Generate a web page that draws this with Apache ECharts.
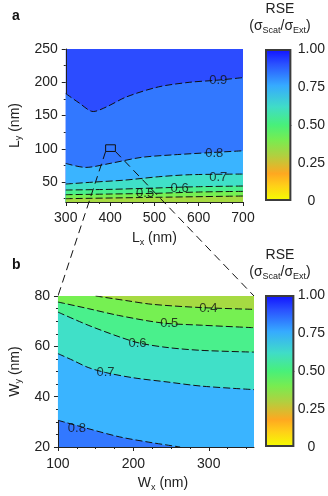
<!DOCTYPE html>
<html>
<head>
<meta charset="utf-8">
<script src="https://cdn.jsdelivr.net/npm/echarts@6/dist/echarts.min.js"></script>
<style>
  html, body { margin: 0; padding: 0; background: #fff; }
  #chart { width: 328px; height: 496px; }
</style>
</head>
<body>
<div id="chart"></div>
<script>
// contour lines of panel a, [Lx, Ly] in nm
const a09 = [[300, 183], [330, 169], [362, 156], [392, 163], [437, 178], [509, 193], [580, 200], [640, 203], [700, 207]]
const a08 = [[300, 78], [345, 72], [400, 78], [470, 87], [545, 91], [620, 94], [700, 97]]
const a07 = [[300, 47], [365, 50], [435, 53], [510, 58], [580, 61], [700, 62]]
const a06 = [[300, 38], [400, 39], [500, 41], [600, 43], [700, 44]]
const a05 = [[300, 31], [400, 32], [500, 33], [600, 35], [700, 36]]
const a04 = [[300, 25], [500, 27], [700, 29]]
const aLabels = [[644, 203.5, '0.9'], [635, 93.5, '0.8'], [644, 57.5, '0.7'], [557, 41, '0.6'], [479, 32.5, '0.5']]
// zoomed region marked in panel a
const aBox = [[390, 96], [390, 106], [412, 106], [412, 96], [390, 96]]

// contour lines of panel b, [Wx, Wy] in nm
const b04 = [[150, 80], [190, 78.2], [225, 76.7], [290, 75.4], [360, 74.7]]
const b05 = [[100, 77.6], [140, 75], [180, 72.3], [238, 69.3], [290, 68.4], [360, 67.4]]
const b06 = [[100, 73.6], [140, 68.4], [182, 63.7], [208, 61.3], [246, 59.5], [290, 58.4], [360, 57.7]]
const b07 = [[100, 57.1], [120, 54.4], [140, 51.6], [163, 49.6], [200, 47.5], [246, 45.8], [290, 44.2], [360, 42.8]]
const b08 = [[100, 30.6], [140, 27.3], [182, 24], [225, 21.7], [262, 20]]
const b08Fill = b08.concat([[360, 20]])
const bLabels = [[299.5, 75, '0.4'], [247.5, 69, '0.5'], [205.5, 61.3, '0.6'], [163, 49.8, '0.7'], [125, 27.5, '0.8']]

// tick positions
const aXTicks = [300, 400, 500, 600, 700]
const aXMinor = [325, 350, 375, 425, 450, 475, 525, 550, 575, 625, 650, 675]
const aYTicks = [50, 100, 150, 200, 250]
const aYMinor = [25, 75, 125, 175, 225]
const bXTicks = [100, 200, 300]
const bXMinor = [125, 150, 175, 225, 250, 275, 325, 350]
const bYTicks = [20, 40, 60, 80]
const bYMinor = [25, 30, 35, 45, 50, 55, 65, 70, 75]
const cbTicks = [0, 0.25, 0.5, 0.75, 1]

// colour of each band between contour levels
const bandColors = {
  '0.3-0.4': '#a6da42',
  '0.4-0.5': '#76f052',
  '0.5-0.6': '#4af08c',
  '0.6-0.7': '#40e0c8',
  '0.7-0.8': '#3ab4ff',
  '0.8-0.9': '#3278ff',
  '0.9-1.0': '#2c4cff',
}

const FONT = 'Liberation Sans, Arial, sans-serif'
const INK = '#222222'

const chart = echarts.init(document.getElementById('chart'))

function mainAxis(gridIndex, min, max, ticks, name, extra) {
  return Object.assign({
    type: 'value',
    gridIndex: gridIndex,
    min: min,
    max: max,
    name: name,
    nameLocation: 'middle',
    nameTextStyle: {
      color: INK,
      fontFamily: FONT,
      fontSize: 14,
      rich: {
        n: { fontSize: 14, fontFamily: FONT, color: INK },
        s: { fontSize: 9, fontFamily: FONT, color: INK, padding: [8, 0, 0, 0] },
      },
    },
    axisLine: { show: true, onZero: false, lineStyle: { color: INK, width: 1 } },
    axisTick: { show: true, inside: false, length: 4, customValues: ticks, lineStyle: { color: INK } },
    axisLabel: { customValues: ticks, color: INK, fontFamily: FONT, fontSize: 14 },
    splitLine: { show: false },
  }, extra)
}

function minorAxis(gridIndex, min, max, ticks, position) {
  return {
    type: 'value',
    gridIndex: gridIndex,
    min: min,
    max: max,
    position: position,
    axisLine: { show: false, onZero: false },
    axisTick: { show: true, inside: false, length: 2, customValues: ticks, lineStyle: { color: INK } },
    axisLabel: { show: false },
    splitLine: { show: false },
  }
}

function contour(data, xi, yi, fill, origin) {
  return {
    type: 'line',
    xAxisIndex: xi,
    yAxisIndex: yi,
    data: data,
    smooth: 0.3,
    symbol: 'none',
    silent: true,
    lineStyle: { color: '#111', width: 1, type: [7, 3] },
    areaStyle: { color: fill, opacity: 1, origin: origin },
  }
}

function fillOnly(data, xi, yi, fill, origin) {
  return {
    type: 'line',
    xAxisIndex: xi,
    yAxisIndex: yi,
    data: data,
    smooth: 0.3,
    symbol: 'none',
    silent: true,
    lineStyle: { width: 0 },
    areaStyle: { color: fill, opacity: 1, origin: origin },
  }
}

function contourLabels(data, xi, yi) {
  return {
    type: 'scatter',
    xAxisIndex: xi,
    yAxisIndex: yi,
    z: 10,
    data: data,
    symbolSize: 0,
    itemStyle: { color: 'rgba(0,0,0,0)' },
    silent: true,
    labelLayout: { hideOverlap: false },
    label: {
      show: true,
      position: 'inside',
      formatter: (p) => p.data[2],
      color: '#111111',
      fontFamily: FONT,
      fontSize: 13,
    },
  }
}

const cbGradient = new echarts.graphic.LinearGradient(0, 0, 0, 1, [
  { offset: 0, color: '#1010ff' },
  { offset: 0.1, color: '#2a52ff' },
  { offset: 0.24, color: '#36aaff' },
  { offset: 0.38, color: '#40dcc8' },
  { offset: 0.5, color: '#48f07a' },
  { offset: 0.6, color: '#78ec50' },
  { offset: 0.7, color: '#b0d040' },
  { offset: 0.82, color: '#ffa820' },
  { offset: 0.9, color: '#ffd018' },
  { offset: 1, color: '#f4ff00' },
])

function colorbar(gridIndex) {
  return {
    type: 'bar',
    xAxisIndex: gridIndex,
    yAxisIndex: gridIndex,
    data: [1],
    barWidth: '100%',
    silent: true,
    itemStyle: { color: cbGradient, borderColor: '#3c3c3c', borderWidth: 2 },
  }
}

function cbAxis(gridIndex, margin) {
  return {
    type: 'value',
    gridIndex: gridIndex,
    position: 'right',
    min: 0,
    max: 1,
    axisLine: { show: false },
    axisTick: { show: true, inside: true, length: 2, customValues: [0.5], lineStyle: { color: '#3c3c3c' } },
    axisLabel: {
      customValues: cbTicks,
      align: 'center',
      margin: margin,
      color: INK,
      fontFamily: FONT,
      fontSize: 14,
      formatter: (v) => (v === 0 ? '0' : v.toFixed(2)),
    },
    splitLine: { show: false },
  }
}

function titleText(y) {
  return [
    {
      type: 'text', x: 280, y: y, z: 100,
      style: { text: 'RSE', fill: INK, font: '14px ' + FONT, textAlign: 'center', textVerticalAlign: 'top', align: 'center', verticalAlign: 'top' },
    },
    {
      type: 'text', x: 280, y: y + 16, z: 100,
      style: {
        text: '{n|(σ}{s|Scat}{n|/σ}{s|Ext}{n|)}',
        textAlign: 'center',
        align: 'center',
        textVerticalAlign: 'top',
        verticalAlign: 'top',
        rich: {
          n: { fontSize: 14, fontFamily: FONT, fill: INK },
          s: { fontSize: 9, fontFamily: FONT, fill: INK, padding: [8, 0, 0, 0] },
        },
      },
    },
  ]
}

const bXName = '{n|W}{s|x}{n| (nm)}'

chart.setOption({
  animation: false,
  backgroundColor: '#ffffff',
  grid: [
    { left: 59, top: 49, width: 184, height: 153, show: true, backgroundColor: bandColors['0.9-1.0'], borderWidth: 0 },
    { left: 51, top: 296, width: 203, height: 151, show: true, backgroundColor: bandColors['0.8-0.9'], borderWidth: 0 },
    { left: 265, top: 49, width: 28, height: 152 },
    { left: 265, top: 295, width: 31, height: 152 },
  ],
  xAxis: [
    mainAxis(0, 300, 700, aXTicks, '{n|L}{s|x}{n| (nm)}', { nameGap: 28, axisLabel: { customValues: aXTicks, color: INK, fontFamily: FONT, fontSize: 14, margin: 9 } }),
    minorAxis(0, 300, 700, aXMinor, 'bottom'),
    mainAxis(1, 100, 360, bXTicks, bXName, {
      nameGap: 28,
      nameTextStyle: {
        color: INK,
        fontFamily: FONT,
        fontSize: 14,
        padding: [0, 0, 0, 14],
        rich: {
          n: { fontSize: 14, fontFamily: FONT, color: INK },
          s: { fontSize: 9, fontFamily: FONT, color: INK, padding: [8, 0, 0, 0] },
        },
      },
      axisLabel: { customValues: bXTicks, color: INK, fontFamily: FONT, fontSize: 14, margin: 10 },
    }),
    minorAxis(1, 100, 360, bXMinor, 'bottom'),
    { type: 'category', gridIndex: 2, data: ['RSE'], show: false },
    { type: 'category', gridIndex: 3, data: ['RSE'], show: false },
  ],
  yAxis: [
    mainAxis(0, 20, 250, aYTicks, '{n|L}{s|y}{n| (nm)}', { nameGap: 42, nameRotate: 90, axisLabel: { customValues: aYTicks, color: INK, fontFamily: FONT, fontSize: 14, margin: 8 } }),
    minorAxis(0, 20, 250, aYMinor, 'left'),
    mainAxis(1, 20, 80, bYTicks, '{n|W}{s|y}{n| (nm)}', { nameGap: 34, nameRotate: 90, axisLabel: { customValues: bYTicks, color: INK, fontFamily: FONT, fontSize: 14, margin: 8 } }),
    minorAxis(1, 20, 80, bYMinor, 'left'),
    cbAxis(2, 20),
    cbAxis(3, 17),
  ],
  series: [
    // panel a: each contour fills the band below it
    contour(a09, 0, 0, bandColors['0.8-0.9'], 'start'),
    contour(a08, 0, 0, bandColors['0.7-0.8'], 'start'),
    contour(a07, 0, 0, bandColors['0.6-0.7'], 'start'),
    contour(a06, 0, 0, bandColors['0.5-0.6'], 'start'),
    contour(a05, 0, 0, bandColors['0.4-0.5'], 'start'),
    contour(a04, 0, 0, bandColors['0.3-0.4'], 'start'),
    contourLabels(aLabels, 0, 0),
    {
      type: 'line', xAxisIndex: 0, yAxisIndex: 0, z: 10, data: aBox, symbol: 'none', silent: true,
      lineStyle: { color: '#111', width: 1 },
    },
    // panel b: each contour fills the band above it
    fillOnly(b08Fill, 2, 2, bandColors['0.7-0.8'], 'end'),
    contour(b08, 2, 2, 'rgba(0,0,0,0)', 'end'),
    contour(b07, 2, 2, bandColors['0.6-0.7'], 'end'),
    contour(b06, 2, 2, bandColors['0.5-0.6'], 'end'),
    contour(b05, 2, 2, bandColors['0.4-0.5'], 'end'),
    contour(b04, 2, 2, bandColors['0.3-0.4'], 'end'),
    contourLabels(bLabels, 2, 2),
    colorbar(4),
    colorbar(5),
  ],
})

// panel letters, colorbar titles and the dashed zoom lines
const boxLeft = chart.convertToPixel({ xAxisIndex: 0, yAxisIndex: 0 }, aBox[0])
const boxRight = chart.convertToPixel({ xAxisIndex: 0, yAxisIndex: 0 }, aBox[3])
const bTopLeft = chart.convertToPixel({ xAxisIndex: 2, yAxisIndex: 2 }, [100, 80])
const bTopRight = chart.convertToPixel({ xAxisIndex: 2, yAxisIndex: 2 }, [360, 80])
const dash = { stroke: '#111', lineWidth: 1, lineDash: [8, 5] }

chart.setOption({
  graphic: [
    { type: 'text', left: 12, top: 9, z: 100, style: { text: 'a', fill: '#111', font: 'bold 14px ' + FONT } },
    { type: 'text', left: 12, top: 258, z: 100, style: { text: 'b', fill: '#111', font: 'bold 14px ' + FONT } },
    ...titleText(2),
    ...titleText(248),
    {
      type: 'line', z: 100, silent: true,
      shape: { x1: boxLeft[0], y1: boxLeft[1], x2: bTopLeft[0], y2: bTopLeft[1] },
      style: dash,
    },
    {
      type: 'line', z: 100, silent: true,
      shape: { x1: boxRight[0], y1: boxRight[1], x2: bTopRight[0], y2: bTopRight[1] },
      style: dash,
    },
  ],
})
</script>
</body>
</html>
